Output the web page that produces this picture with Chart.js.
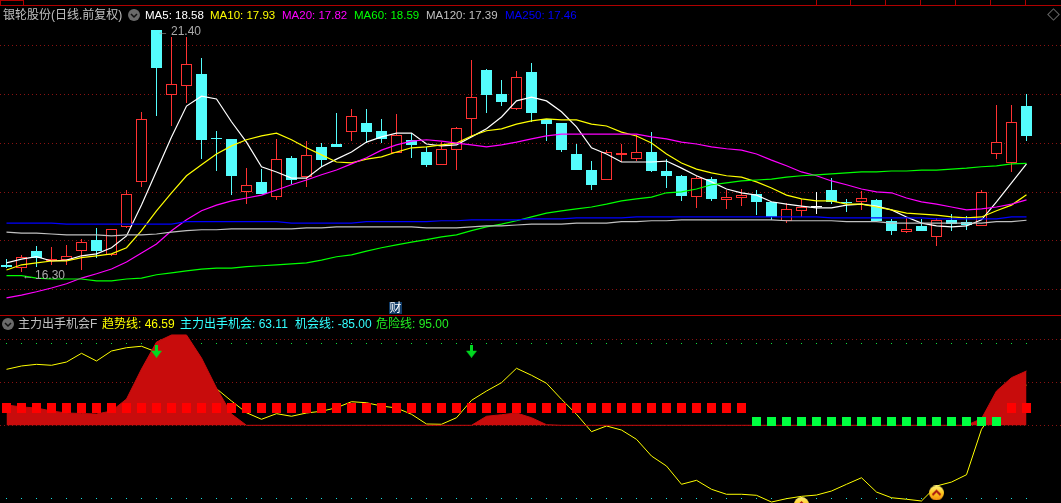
<!DOCTYPE html>
<html>
<head>
<meta charset="utf-8">
<style>
html, body { margin: 0; padding: 0; background: #000; overflow: hidden; }
#wrap { position: relative; width: 1061px; height: 503px; background: #000; overflow: hidden; }
canvas { position: absolute; left: 0; }
.t { position: absolute; white-space: nowrap; font: 11.5px/14px "Liberation Sans", "Noto Sans CJK SC", sans-serif; }
.cn { font-size: 12px; }
.rule { position: absolute; left: 0; width: 1061px; height: 1px; background: #b00000; }
.tab { position: absolute; top: 0; width: 1px; height: 5px; background: #b00000; }
.knob { position: absolute; width: 12px; height: 12px; border-radius: 50%; background: #6a6a6a; }
.knob svg { display: block; }
#strip { position: absolute; left: 0; top: 0; width: 1061px; height: 2px; overflow: hidden; }
#strip span { position: absolute; top: -10px; font: 12px/12px "Liberation Sans"; color: #aaa; white-space: nowrap; }
#diamond { position: absolute; left: 1049px; top: 10px; width: 7px; height: 7px; border: 1px solid #666; transform: rotate(45deg); }
</style>
</head>
<body>
<div id="wrap">
  <canvas id="priceChart" width="1061" height="315" style="top:0"></canvas>
  <canvas id="signalChart" width="1061" height="187" style="top:316px"></canvas>

  <div id="strip">
    <span style="left:30px">1 0 &nbsp; 1 2</span>
    <span style="left:70px">13 11</span>
    <span style="left:110px">10 14</span>
    <span style="left:145px">13 11</span>
    <span style="left:195px">1 4 1</span>
    <span style="left:240px">11 &nbsp;10</span>
    <span style="left:278px;color:#3ff">1 1</span>
    <span style="left:300px">14 4 14</span>
    <span style="left:355px">1 1 4 1 &nbsp;1 2 2</span>
    <span style="left:818px">2 5 4 1</span>
    <span style="left:851px">3 2 4 1</span>
    <span style="left:889px">2 4 8 1</span>
    <span style="left:926px">1 1 1</span>
    <span style="left:963px">1 4 4</span>
    <span style="left:1030px">11 &nbsp;2</span>
  </div>
  <div class="rule" style="top:5px"></div>
  <div class="rule" style="top:315px"></div>
  <div class="rule" style="top:0;width:23px"></div>
  <div class="tab" style="left:0"></div>
  <div class="tab" style="left:23px"></div>
  <div class="tab" style="left:816px"></div>
  <div class="tab" style="left:850px"></div>
  <div class="tab" style="left:885px"></div>
  <div class="tab" style="left:920px"></div>
  <div class="tab" style="left:955px"></div>
  <div class="tab" style="left:990px"></div>
  <div class="tab" style="left:1025px"></div>

  <div class="t cn" style="left:3px;top:8px;color:#c0c0c0">银轮股份(日线.前复权)</div>
  <div class="knob" style="left:128px;top:9px"><svg width="12" height="12"><polyline points="3,5 6,8 9,5" fill="none" stroke="#111" stroke-width="1.5"/></svg></div>
  <div class="t" style="left:145px;top:8px;color:#fff">MA5: 18.58</div>
  <div class="t" style="left:210px;top:8px;color:#ff0">MA10: 17.93</div>
  <div class="t" style="left:282px;top:8px;color:#f0f">MA20: 17.82</div>
  <div class="t" style="left:354px;top:8px;color:#0f0">MA60: 18.59</div>
  <div class="t" style="left:426px;top:8px;color:#c0c0c0">MA120: 17.39</div>
  <div class="t" style="left:505px;top:8px;color:#0000ff">MA250: 17.46</div>
  <div id="diamond"></div>

  <div class="t" style="left:157px;top:24px;color:#aaa">&#8592;</div>
  <div class="t" style="left:171px;top:24px;color:#aaa;font-size:12px">21.40</div>
  <div class="t" style="left:22px;top:268px;color:#aaa">&#8592;</div>
  <div class="t" style="left:35px;top:268px;color:#aaa;font-size:12px">16.30</div>
  <div class="t cn" style="left:389px;top:302px;width:13px;height:12px;line-height:12px;background:#0f3a66;color:#fff;text-align:center">财</div>

  <div class="knob" style="left:2px;top:318px"><svg width="12" height="12"><polyline points="3,5 6,8 9,5" fill="none" stroke="#111" stroke-width="1.5"/></svg></div>
  <div class="t cn" style="left:18px;top:317px;color:#c0c0c0">主力出手机会F</div>
  <div class="t cn" style="left:102px;top:317px;color:#ff0">趋势线: 46.59</div>
  <div class="t cn" style="left:180px;top:317px;color:#3ff">主力出手机会: 63.11</div>
  <div class="t cn" style="left:295px;top:317px;color:#3ff">机会线: -85.00</div>
  <div class="t cn" style="left:376px;top:317px;color:#2e2">危险线: 95.00</div>
</div>

<script src="https://cdn.jsdelivr.net/npm/chart.js@4"></script>
<script>
// candles
const opens = [16.45,16.38,16.74,16.53,16.55,16.74,16.98,16.66,17.25,18.20,21.40,20.03,20.22,20.48,19.12,19.11,17.99,18.20,17.88,18.71,18.30,18.94,19.00,19.25,19.44,19.28,18.81,19.09,18.83,18.56,18.87,19.53,20.56,20.06,19.74,20.52,19.53,19.44,18.79,18.45,18.24,18.77,18.68,18.83,18.43,18.33,17.88,18.26,17.82,17.86,17.95,17.78,17.38,17.59,17.68,18.03,17.78,17.78,17.82,17.38,17.14,17.27,17.04,17.40,17.36,17.27,18.79,18.60,19.80];
const closes = [16.41,16.62,16.60,16.57,16.63,16.93,16.74,17.21,17.95,19.53,20.60,20.27,20.69,19.09,19.10,18.33,18.14,17.95,18.68,18.24,18.77,18.66,18.94,19.59,19.25,19.11,19.20,18.98,18.56,18.90,19.34,19.99,20.03,19.89,20.41,19.66,19.42,18.87,18.45,18.14,18.83,18.80,18.83,18.43,18.33,17.90,18.28,17.84,17.88,17.92,17.78,17.46,17.63,17.67,17.68,17.78,17.76,17.86,17.38,17.17,17.21,17.17,17.40,17.31,17.29,17.99,19.04,19.47,19.17];
const highs = [16.57,16.66,16.85,16.83,16.87,17.00,17.23,17.21,18.03,19.68,21.40,21.26,21.26,20.82,19.28,19.11,18.49,18.47,19.11,18.75,19.06,19.02,19.66,19.74,19.74,19.53,19.63,19.23,18.94,19.04,19.36,20.77,20.58,20.35,20.54,20.71,19.53,19.44,19.00,18.64,18.87,19.00,19.19,19.25,18.68,18.35,18.33,18.30,18.03,18.05,18.03,17.78,17.76,17.84,17.99,18.28,17.84,18.01,17.84,17.42,17.44,17.42,17.44,17.52,17.48,18.03,19.82,19.82,20.06];
const lows = [16.38,16.30,16.41,16.45,16.45,16.34,16.60,16.64,17.23,18.09,19.59,19.38,19.87,18.68,18.44,17.92,17.73,17.95,17.82,18.16,18.09,18.52,18.93,19.06,19.02,19.02,18.81,18.71,18.52,18.56,18.45,19.17,19.66,19.80,19.72,19.47,19.06,18.83,18.45,18.03,18.24,18.62,18.64,18.41,18.07,17.80,17.65,17.80,17.63,17.69,17.50,17.40,17.33,17.46,17.52,17.73,17.57,17.61,17.36,17.08,17.12,17.17,16.85,17.17,17.19,17.27,18.68,18.41,19.06];

// moving averages
const ma5 = [16.49,16.57,16.62,16.53,16.55,16.64,16.68,16.81,17.06,17.71,18.43,19.15,19.80,20.01,19.95,19.47,19.04,18.52,18.41,18.28,18.28,18.52,18.68,18.83,19.04,19.15,19.23,19.23,19.00,18.96,18.98,19.15,19.32,19.57,19.91,19.99,19.91,19.68,19.36,18.92,18.79,18.62,18.62,18.62,18.64,18.49,18.33,18.20,18.05,17.97,17.92,17.78,17.73,17.69,17.65,17.65,17.71,17.73,17.69,17.61,17.46,17.33,17.27,17.25,17.27,17.40,17.78,18.18,18.58];
const ma10 = [16.34,16.45,16.49,16.53,16.53,16.60,16.64,16.68,16.81,17.17,17.59,17.97,18.33,18.56,18.79,18.96,19.09,19.17,19.23,19.09,18.92,18.77,18.62,18.60,18.68,18.73,18.83,18.92,18.94,18.98,19.02,19.17,19.28,19.32,19.42,19.49,19.53,19.51,19.51,19.42,19.38,19.25,19.17,19.02,18.79,18.60,18.47,18.39,18.33,18.30,18.20,18.07,17.92,17.84,17.80,17.80,17.73,17.73,17.67,17.61,17.54,17.52,17.50,17.46,17.44,17.46,17.59,17.71,17.93];
const ma20 = [15.75,15.81,15.88,15.96,16.05,16.17,16.26,16.36,16.51,16.70,16.89,17.17,17.40,17.59,17.71,17.80,17.86,17.92,18.03,18.14,18.24,18.35,18.45,18.58,18.71,18.87,18.98,19.06,19.09,19.06,19.02,18.98,18.94,18.98,19.04,19.11,19.17,19.21,19.21,19.21,19.21,19.21,19.21,19.15,19.11,19.04,19.00,18.94,18.90,18.87,18.79,18.66,18.54,18.41,18.33,18.22,18.14,18.05,17.99,17.97,17.86,17.78,17.73,17.67,17.61,17.63,17.67,17.73,17.82];
const ma60 = [16.22,16.22,16.17,16.15,16.15,16.15,16.11,16.11,16.15,16.17,16.24,16.28,16.32,16.36,16.38,16.38,16.41,16.43,16.45,16.47,16.49,16.55,16.62,16.66,16.74,16.81,16.87,16.93,16.98,17.04,17.08,17.17,17.25,17.31,17.38,17.46,17.54,17.59,17.63,17.67,17.73,17.80,17.84,17.88,17.97,17.99,18.05,18.14,18.18,18.22,18.24,18.26,18.30,18.33,18.35,18.37,18.39,18.41,18.41,18.43,18.43,18.45,18.45,18.47,18.49,18.52,18.54,18.58,18.59];
const ma120 = [17.14,17.12,17.12,17.10,17.08,17.08,17.08,17.06,17.08,17.08,17.10,17.14,17.17,17.19,17.19,17.21,17.21,17.21,17.21,17.21,17.23,17.23,17.25,17.25,17.25,17.25,17.25,17.25,17.23,17.23,17.23,17.25,17.27,17.27,17.29,17.31,17.31,17.31,17.33,17.33,17.33,17.36,17.36,17.38,17.38,17.40,17.40,17.40,17.40,17.40,17.40,17.40,17.38,17.38,17.38,17.38,17.36,17.36,17.36,17.33,17.33,17.33,17.33,17.33,17.33,17.33,17.36,17.36,17.39];
const ma250 = [17.33,17.33,17.33,17.33,17.31,17.31,17.31,17.31,17.31,17.31,17.31,17.31,17.36,17.36,17.36,17.36,17.36,17.36,17.36,17.33,17.33,17.33,17.33,17.33,17.36,17.36,17.36,17.36,17.36,17.38,17.38,17.40,17.40,17.40,17.40,17.42,17.42,17.42,17.44,17.44,17.44,17.44,17.46,17.46,17.46,17.46,17.46,17.46,17.46,17.46,17.46,17.46,17.46,17.46,17.46,17.44,17.44,17.44,17.44,17.44,17.44,17.44,17.42,17.42,17.42,17.42,17.42,17.46,17.46];
const priceGrid = [21.08,20.05,19.01,17.98,16.96,15.93];

// lower panel
const trendLine = [65.0,68.9,70.8,69.7,73.5,83.6,74.7,86.3,90.1,91.8,85.1,77.4,66.9,55.3,42.5,28.2,14.6,7.0,13.5,10.5,14.3,16.3,20.4,27.4,26.2,22.4,20.1,12.8,1.5,1.2,8.8,29.0,39.8,49.5,66.2,58.1,48.8,30.2,12.8,-7.4,-0.8,-5.5,-16.3,-35.7,-47.3,-68.5,-63.9,-74.3,-80.1,-80.1,-81.3,-89.1,-85.2,-82.5,-81.0,-76.3,-68.5,-60.9,-77.5,-84.1,-85.9,-87.9,-70.5,-65.9,-57.4,-4.6,20,40,46.59];
const chance = [23.6,21.3,20.1,16.6,14.3,13.7,13.1,16.6,30.5,65.4,96.7,104.9,104.9,78.2,43.3,13.1,0,0,0,0,0,0,0,0,0,0,0,0,0,0,0,0,10.5,12.3,14.3,8.8,0.7,0,0,0,0,0,0,0,0,0,0,0,0,0,0,0,0,0,0,0,0,0,0,0,0,0,0,0,0,7.7,39.8,55.3,63.11];
const sellIdx = [10,31];      // green arrows
const buyIdx = [53,62];       // round badges
const buyVals = [-92,-78.6];
const dangerLine = 95, chanceLine = -85;
const signalGrid = [100,50,0];
// 1 = red block, 0 = green block
const blockSide = [1,1,1,1,1,1,1,1,1,1,1,1,1,1,1,1,1,1,1,1,1,1,1,1,1,1,1,1,1,1,1,1,1,1,1,1,1,1,1,1,1,1,1,1,1,1,1,1,1,1,0,0,0,0,0,0,0,0,0,0,0,0,0,0,0,0,0,1,1];

const RED = '#ff3232', CYAN = '#54fcfc', GRID = '#8a1212', AREA = '#c80c0c';

// x axis is bar number, so one bar is exactly 15px
const xAxis = { type: 'linear', display: false, offset: false, min: -6.5 / 15, max: -6.5 / 15 + 1061 / 15 };

function yAxis(min, max, gridVals) {
    return {
        min, max,
        border: { display: false, dash: [1, 3] },
        ticks: { display: false },
        grid: { color: GRID, drawTicks: false },
        afterBuildTicks: s => { s.ticks = gridVals.map(v => ({ value: v })); }
    };
}

const baseOptions = {
    responsive: false,
    animation: false,
    events: [],
    layout: { padding: 0, autoPadding: false },
    plugins: { legend: { display: false }, tooltip: { enabled: false } }
};

// keep bar edges on whole pixels, the original is not antialiased
const snapBars = {
    id: 'snapBars',
    afterDatasetUpdate(chart, args) {
        if (args.meta.type !== 'bar') return;
        args.meta.data.forEach(bar => {
            bar.y = Math.round(bar.y);
            bar.base = Math.round(bar.base);
        });
    }
};

function lineSet(values, color, order) {
    return {
        type: 'line',
        data: values.map((v, i) => ({ x: i, y: v })),
        borderColor: color,
        borderWidth: 1.2,
        pointRadius: 0,
        tension: 0,
        order
    };
}

function candleColor(i) {
    if (closes[i] > opens[i]) return RED;
    if (closes[i] < opens[i]) return CYAN;
    return '#fff';
}

// price panel
new Chart(document.getElementById('priceChart'), {
    type: 'bar',
    plugins: [snapBars],
    data: {
        datasets: [
            {
                data: highs.map((h, i) => ({ x: i, y: [lows[i], h] })),
                backgroundColor: highs.map((h, i) => candleColor(i)),
                barThickness: 1,
                inflateAmount: 0,
                grouped: false,
                order: 9
            },
            {
                data: opens.map((o, i) => ({ x: i, y: [o, closes[i]] })),
                backgroundColor: opens.map((o, i) => closes[i] > o ? '#000' : candleColor(i)),
                borderColor: opens.map((o, i) => candleColor(i)),
                borderWidth: 1,
                borderSkipped: false,
                minBarLength: 1,
                barThickness: 11,
                inflateAmount: 0,
                grouped: false,
                order: 8
            },
            lineSet(ma5, '#ffffff', 6),
            lineSet(ma10, '#ffff00', 5),
            lineSet(ma20, '#ff00ff', 4),
            lineSet(ma60, '#00ff00', 3),
            lineSet(ma120, '#c0c0c0', 2),
            lineSet(ma250, '#0000ff', 1)
        ]
    },
    options: { ...baseOptions, scales: { x: xAxis, y: yAxis(15.39, 22.04, priceGrid) } }
});

// little pictures for the signal marks
function arrowIcon() {
    const c = document.createElement('canvas');
    c.width = 11; c.height = 13;
    const g = c.getContext('2d');
    g.fillStyle = '#00d820';
    g.fillRect(4, 0, 3, 7);
    g.beginPath(); g.moveTo(0, 6); g.lineTo(11, 6); g.lineTo(5.5, 13); g.closePath(); g.fill();
    return c;
}

function badgeIcon() {
    const c = document.createElement('canvas');
    c.width = 15; c.height = 15;
    const g = c.getContext('2d');
    const grad = g.createLinearGradient(0, 0, 0, 15);
    grad.addColorStop(0, '#fff27a');
    grad.addColorStop(.5, '#ffc81e');
    grad.addColorStop(1, '#f58a10');
    g.fillStyle = grad;
    g.beginPath(); g.arc(7.5, 7.5, 7.5, 0, Math.PI * 2); g.fill();
    g.strokeStyle = '#a81410'; g.lineWidth = 2;
    g.beginPath(); g.moveTo(3.5, 9.5); g.lineTo(7.5, 5.5); g.lineTo(11.5, 9.5); g.stroke();
    return c;
}

function dotSet(level, color) {
    return {
        type: 'line',
        data: chance.map((v, i) => ({ x: i, y: level })),
        showLine: false,
        pointStyle: 'rect',
        pointRadius: 0.71,
        pointBorderWidth: 0,
        pointBackgroundColor: color,
        order: 7
    };
}

// signal panel
new Chart(document.getElementById('signalChart'), {
    type: 'bar',
    plugins: [snapBars],
    data: {
        datasets: [
            dotSet(dangerLine, '#10e040'),
            dotSet(chanceLine, '#18e0e0'),
            { ...lineSet(trendLine, '#ffff00', 6), borderWidth: 1 },
            {
                type: 'line',
                data: chance.map((v, i) => ({ x: i, y: v })),
                borderColor: AREA,
                backgroundColor: AREA,
                borderWidth: 1,
                pointRadius: 0,
                tension: 0,
                fill: 'origin',
                order: 5
            },
            {
                data: blockSide.map((s, i) => ({ x: i, y: s ? [14.5, 26] : [-1, 10] })),
                backgroundColor: blockSide.map(s => s ? '#ff0000' : '#00ff40'),
                barThickness: 9,
                inflateAmount: 0,
                grouped: false,
                order: 3
            },
            {
                type: 'line',
                data: sellIdx.map(i => ({ x: i, y: 86 })),
                showLine: false,
                pointStyle: arrowIcon(),
                clip: false,
                order: 1
            },
            {
                type: 'line',
                data: buyIdx.map((i, k) => ({ x: i, y: buyVals[k] })),
                showLine: false,
                pointStyle: badgeIcon(),
                clip: false,
                order: 1
            }
        ]
    },
    options: { ...baseOptions, scales: { x: xAxis, y: yAxis(-90.23, 126.93, signalGrid) } }
});
</script>
</body>
</html>
